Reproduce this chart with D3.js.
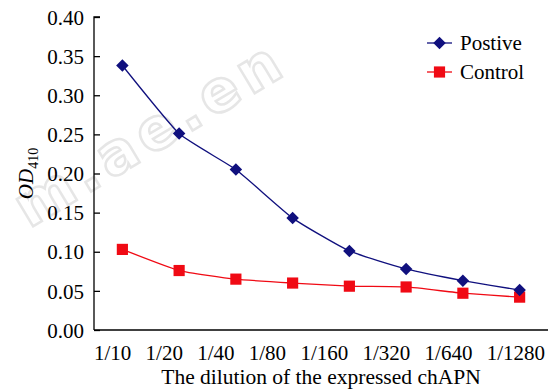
<!DOCTYPE html>
<html>
<head>
<meta charset="utf-8">
<script src="https://cdn.jsdelivr.net/npm/d3@7"></script>
<style>
  body { margin: 0; background: #fff; }
  svg { display: block; font-family: "Liberation Serif", "Times New Roman", serif; }
</style>
</head>
<body>
<script>
'use strict';

// Data
const dilutions = ['1/10', '1/20', '1/40', '1/80', '1/160', '1/320', '1/640', '1/1280'];
const positive = [0.338, 0.251, 0.205, 0.143, 0.101, 0.078, 0.063, 0.051];
const control = [0.103, 0.076, 0.065, 0.060, 0.056, 0.055, 0.047, 0.042];
const yTicks = [0, 0.05, 0.10, 0.15, 0.20, 0.25, 0.30, 0.35, 0.40];

const width = 553;
const height = 392;
const margin = { top: 17, right: 5, bottom: 62, left: 94 };
const fontSize = 21;

const svg = d3.select('body').append('svg')
  .attr('width', width)
  .attr('height', height);

// Watermark (faint)
svg.append('text')
  .attr('transform', 'translate(160,150) rotate(-31)')
  .attr('text-anchor', 'middle')
  .attr('font-family', 'DejaVu Sans')
  .attr('font-weight', 'bold')
  .attr('font-size', 58)
  .attr('letter-spacing', 6)
  .attr('fill', '#fff')
  .attr('stroke', '#e6e6e6')
  .attr('stroke-width', 2.5)
  .text('m.ae.en');

const x = d3.scaleBand()
  .domain(dilutions)
  .range([margin.left, width - margin.right]);

const y = d3.scaleLinear()
  .domain([0, 0.4])
  .range([height - margin.bottom, margin.top]);

// Y axis (ticks inward)
const yAxis = svg.append('g')
  .attr('transform', `translate(${margin.left},0)`)
  .call(d3.axisRight(y).tickValues(yTicks).tickSize(6).tickFormat(d3.format('.2f')));
yAxis.select('.domain').attr('d', `M6,${y(0.4)}H0V${y(0)}`).attr('stroke-width', 1.3);
yAxis.selectAll('.tick line').attr('stroke-width', 1.3);
yAxis.selectAll('.tick text')
  .attr('x', -10)
  .attr('dy', '0.34em')
  .attr('text-anchor', 'end')
  .attr('font-size', fontSize)
  .attr('font-family', '"Liberation Serif", serif')
  .attr('fill', '#000');

// X axis line
svg.append('line')
  .attr('x1', margin.left).attr('x2', width - margin.right)
  .attr('y1', y(0)).attr('y2', y(0))
  .attr('stroke', '#000').attr('stroke-width', 1.3);

// X labels, laid out like typed text spread across the axis
const xLabels = svg.append('g').selectAll('text')
  .data(dilutions)
  .join('text')
  .attr('y', 360)
  .attr('font-size', fontSize)
  .text(d => d);
const widths = xLabels.nodes().map(n => n.getComputedTextLength());
const gap = (width - margin.right - 3 - margin.left - d3.sum(widths)) / (dilutions.length - 1);
let cursor = margin.left;
xLabels.attr('x', (d, i) => {
  const pos = cursor;
  cursor += widths[i] + gap;
  return pos;
});

// Axis titles
svg.append('text')
  .attr('x', (margin.left + width - margin.right) / 2)
  .attr('y', 384)
  .attr('text-anchor', 'middle')
  .attr('font-size', 21.5)
  .text('The dilution of the expressed chAPN');

const yTitle = svg.append('text')
  .attr('transform', `translate(33,${(y(0) + y(0.4)) / 2}) rotate(-90)`)
  .attr('text-anchor', 'middle')
  .attr('font-size', fontSize);
yTitle.append('tspan').attr('font-style', 'italic').text('OD');
yTitle.append('tspan').attr('font-size', 14).attr('dy', 5).text('410');

// Series
const series = [
  { name: 'Postive', values: positive, color: '#10107e', symbol: d3.symbolDiamond2, size: 100 },
  { name: 'Control', values: control, color: '#f00a14', symbol: d3.symbolSquare, size: 125 }
];

const line = d3.line()
  .x((d, i) => x(dilutions[i]) + x.bandwidth() / 2)
  .y(d => y(d))
  .curve(d3.curveCardinal.tension(0.55));

series.slice().reverse().forEach(s => {
  svg.append('path')
    .attr('d', line(s.values))
    .attr('fill', 'none')
    .attr('stroke', s.color)
    .attr('stroke-width', 1.3);
});

series.slice().reverse().forEach(s => {
  svg.append('g').selectAll('path')
    .data(s.values)
    .join('path')
    .attr('transform', (d, i) => `translate(${x(dilutions[i]) + x.bandwidth() / 2},${y(d)})`)
    .attr('d', d3.symbol(s.symbol, s.size))
    .attr('fill', s.color);
});

// Legend
const legend = svg.append('g').selectAll('g')
  .data(series)
  .join('g')
  .attr('transform', (d, i) => `translate(427,${43 + i * 29})`);
legend.append('line')
  .attr('x1', 0).attr('x2', 25)
  .attr('stroke', d => d.color)
  .attr('stroke-width', 1.3);
legend.append('path')
  .attr('transform', 'translate(12.5,0)')
  .attr('d', d => d3.symbol(d.symbol, d.size)())
  .attr('fill', d => d.color);
legend.append('text')
  .attr('x', 33)
  .attr('y', 7)
  .attr('font-size', fontSize)
  .text(d => d.name);
</script>
</body>
</html>
